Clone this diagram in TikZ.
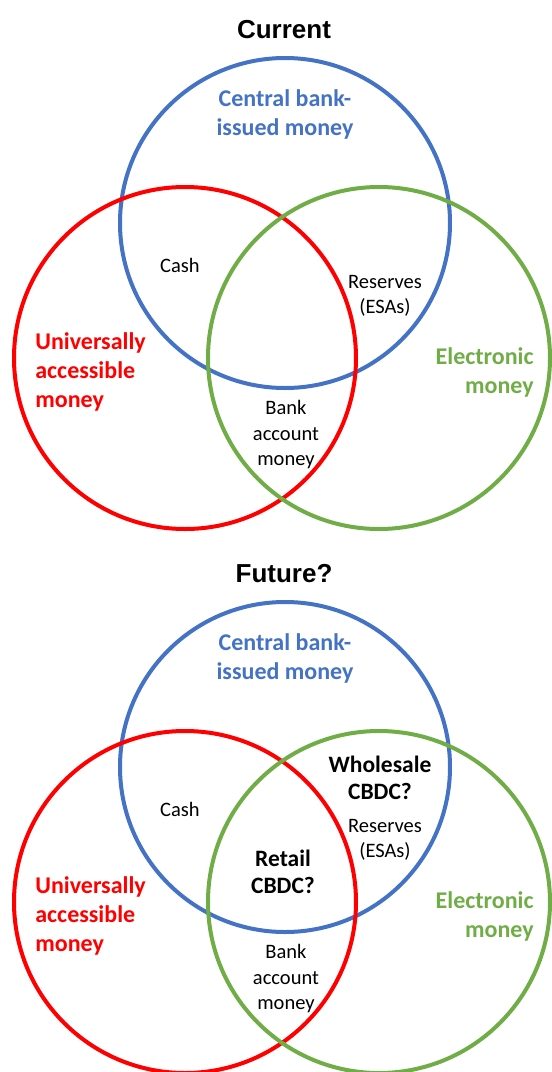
\documentclass[tikz,border=0pt]{standalone}
\usepackage{fontspec}
\setmainfont{Carlito}
\newfontfamily\headfont{Liberation Sans}
\definecolor{cbblue}{HTML}{4472C4}
\definecolor{uared}{HTML}{FF0000}
\definecolor{emgreen}{HTML}{70AD47}

\begin{document}
\begin{tikzpicture}[x=1pt,y=-1pt,line width=4pt,
  head/.style={font=\headfont\bfseries\fontsize{26}{30}\selectfont},
  setlabel/.style={font=\bfseries\fontsize{24}{29}\selectfont},
  area/.style={font=\fontsize{20.5}{25.5}\selectfont,align=center},
  cbdc/.style={font=\bfseries\fontsize{23.5}{27}\selectfont,align=center}]
\def\rblue{165pt}
\def\rside{171pt}
\useasboundingbox (0,0) rectangle (552,1072);

% current
\node[head] (cur) at (284,30) {Current};
\draw[cbblue] (285,223) circle (\rblue);
\draw[uared] (185,358) circle (\rside);
\draw[emgreen] (379,358) circle (\rside);
\node[setlabel,cbblue,align=center] (cbm) at (285,114) {Central bank-\\issued money};
\node[setlabel,uared,align=left,anchor=west] (uam) at (30,372) {Universally\\accessible\\money};
\node[setlabel,emgreen,align=right,anchor=east] (elm) at (539,372) {Electronic\\money};
\node[area] (cash) at (180,265) {Cash};
\node[area] (res) at (385,296) {Reserves\\(ESAs)};
\node[area] (bam) at (286,435) {Bank\\account\\money};

% future
\begin{scope}[shift={(0,544)}]
\node[head] (fut) at (284,30) {Future?};
\draw[cbblue] (285,223) circle (\rblue);
\draw[uared] (185,358) circle (\rside);
\draw[emgreen] (379,358) circle (\rside);
\node[setlabel,cbblue,align=center] (fcbm) at (285,114) {Central bank-\\issued money};
\node[setlabel,uared,align=left,anchor=west] (fuam) at (30,372) {Universally\\accessible\\money};
\node[setlabel,emgreen,align=right,anchor=east] (felm) at (539,372) {Electronic\\money};
\node[area] (fcash) at (180,265) {Cash};
\node[area] (fres) at (385,296) {Reserves\\(ESAs)};
\node[area] (fbam) at (286,435) {Bank\\account\\money};
\node[cbdc] (whole) at (380,234) {Wholesale\\CBDC?};
\node[cbdc] (retail) at (283,328) {Retail\\CBDC?};
\end{scope}
\end{tikzpicture}
\end{document}
